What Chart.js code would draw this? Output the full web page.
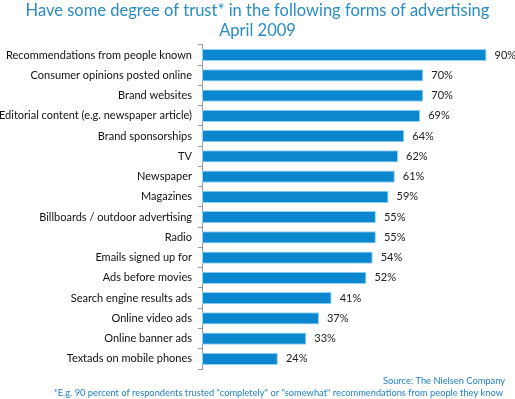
<!DOCTYPE html>
<html>
<head>
<meta charset="utf-8">
<script src="https://cdn.jsdelivr.net/npm/chart.js@4"></script>
<style>
  html, body { margin: 0; padding: 0; background: #fff; }
  #wrap { width: 515px; height: 399px; }
</style>
</head>
<body>
<div id="wrap"><canvas id="trustChart"></canvas></div>
<script>
const categories = [
  "Recommendations from people known",
  "Consumer opinions posted online",
  "Brand websites",
  "Editorial content (e.g. newspaper article)",
  "Brand sponsorships",
  "TV",
  "Newspaper",
  "Magazines",
  "Billboards / outdoor advertising",
  "Radio",
  "Emails signed up for",
  "Ads before movies",
  "Search engine results ads",
  "Online video ads",
  "Online banner ads",
  "Textads on mobile phones"
];
const trustValues = [90, 70, 70, 69, 64, 62, 61, 59, 55, 55, 54, 52, 41, 37, 33, 24];
const titleLines = ["Have some degree of trust* in the following forms of advertising", "April 2009"];
const footerLines = [
  "Source: The Nielsen Company",
  "*E.g. 90 percent of respondents trusted \"completely\" or \"somewhat\" recommendations from people they know"
];

// value labels at the end of each bar
const valueLabels = {
  id: "valueLabels",
  afterDatasetsDraw(chart) {
    const ctx = chart.ctx;
    const meta = chart.getDatasetMeta(0);
    ctx.save();
    ctx.font = "11px Lato";
    ctx.fillStyle = "#222";
    ctx.textBaseline = "middle";
    meta.data.forEach((bar, i) => {
      ctx.fillText(trustValues[i] + "%", bar.x + 8, bar.y);
    });
    ctx.restore();
  }
};

// source + footnote under the chart
const footer = {
  id: "footer",
  afterDraw(chart) {
    const ctx = chart.ctx;
    ctx.save();
    ctx.font = "9.3px Lato";
    ctx.fillStyle = "#1f7fc4";
    ctx.textAlign = "right";
    ctx.textBaseline = "middle";
    ctx.fillText(footerLines[0], 505, 381);
    ctx.fillText(footerLines[1], 503, 393);
    ctx.restore();
  }
};

new Chart(document.getElementById("trustChart"), {
  type: "bar",
  data: {
    labels: categories,
    datasets: [{
      data: trustValues,
      backgroundColor: "#0b87d0",
      borderColor: "#8fd4f2",
      borderWidth: 1,
      borderSkipped: false,
      barPercentage: 0.6,
      categoryPercentage: 1
    }]
  },
  options: {
    indexAxis: "y",
    responsive: true,
    maintainAspectRatio: false,
    animation: false,
    layout: { padding: { top: 0, bottom: 30, right: 0, left: 0 } },
    plugins: {
      legend: { display: false },
      tooltip: { enabled: false },
      title: {
        display: true,
        text: titleLines,
        color: "#2a8cc4",
        font: { family: "Lato", size: 16.5, weight: "normal", lineHeight: 1.24 },
        padding: { top: 0, bottom: 4 }
      }
    },
    scales: {
      x: { display: false, min: 0, max: 99 },
      y: {
        afterFit(scale) { scale.width = 202; },
        grid: {
          display: true,
          drawOnChartArea: false,
          drawTicks: true,
          tickLength: 4,
          color: "#999"
        },
        border: { display: true, color: "#999" },
        ticks: {
          color: "#111",
          font: { family: "Lato", size: 11 },
          padding: 6,
          autoSkip: false
        }
      }
    }
  },
  plugins: [valueLabels, footer]
});
</script>
</body>
</html>
